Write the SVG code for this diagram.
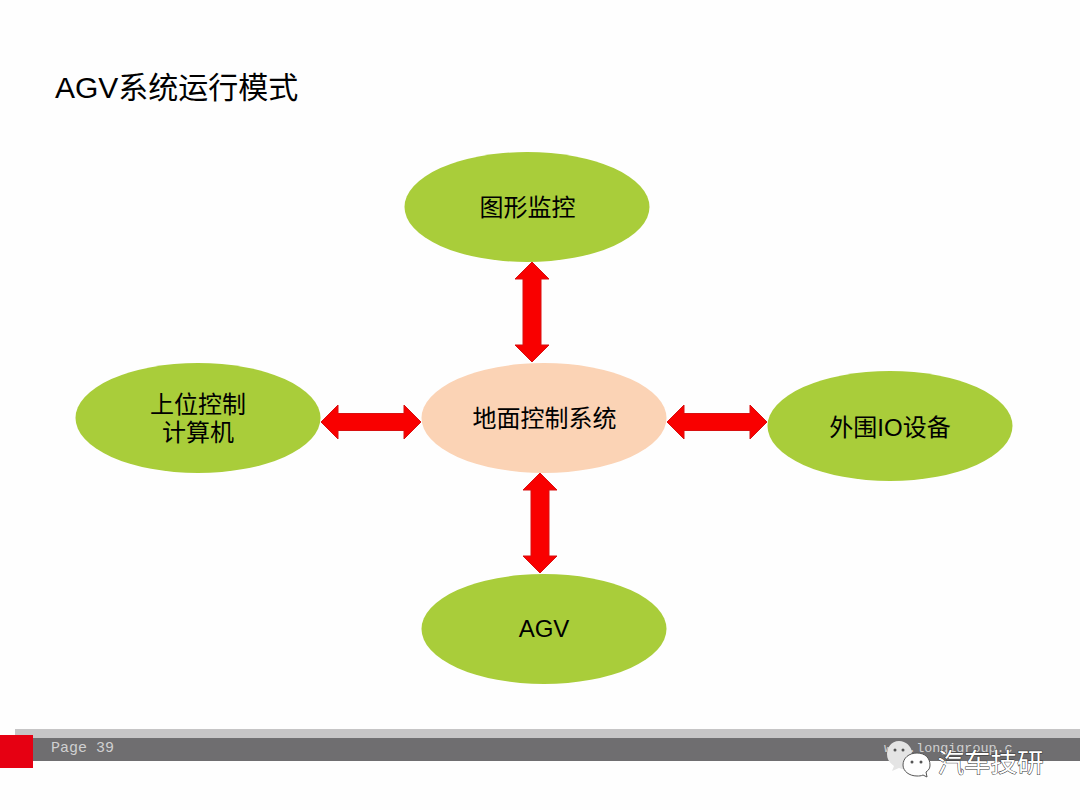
<svg xmlns="http://www.w3.org/2000/svg" width="1080" height="810" viewBox="0 0 1080 810">
<style>
text{font-family:"Liberation Sans","Noto Sans CJK SC",sans-serif;fill:#000;text-anchor:middle}
.l{font-size:24px}
.g{fill:#a9cd3a}
.a{fill:#f90000;stroke:#d81010;stroke-width:1}
.m{font-family:"Liberation Mono",monospace;fill:#d0d0d0;text-anchor:start}
.d{fill:#555}
</style>
<rect width="1080" height="810" fill="#fefefe"/>
<text x="55" y="98" style="font-size:30px;text-anchor:start">AGV系统运行模式</text>
<g id="connectors">
<path class="a" d="M532 262L549 279H541V345H549L532 362L515 345H523V279H515Z"/>
<path class="a" d="M321 422L338 405V413.500H404V405L421 422L404 439V430.500H338V439Z"/>
<path class="a" d="M667 422L684 405V413.500H750V405L767 422L750 439V430.500H684V439Z"/>
<path class="a" d="M540 473L557 490H549V556H557L540 573L523 556H531V490H523Z"/>
</g>
<g id="node-monitor"><ellipse class="g" cx="527" cy="207" rx="122.500" ry="55"/><text class="l" x="527.500" y="216">图形监控</text></g>
<g id="node-host"><ellipse class="g" cx="198" cy="418" rx="122.500" ry="55"/><text class="l" x="198" y="413">上位控制</text><text class="l" x="198" y="441">计算机</text></g>
<g id="node-center"><ellipse cx="544" cy="418" rx="122.500" ry="55" fill="#fbd3b5"/><text class="l" x="544.500" y="427">地面控制系统</text></g>
<g id="node-io"><ellipse class="g" cx="890" cy="426" rx="122.500" ry="55"/><text class="l" x="890" y="436">外围IO设备</text></g>
<g id="node-agv"><ellipse class="g" cx="544" cy="629" rx="122.500" ry="55"/><text class="l" x="544" y="637">AGV</text></g>
<rect x="15" y="729" width="1065" height="9" fill="#c6c5c6"/>
<rect x="33" y="738" width="1047" height="23" fill="#6f6e70"/>
<rect x="0" y="735" width="33" height="33" fill="#e60012"/>
<text class="m" x="51" y="752" style="font-size:15px">Page 39</text>
<text class="m" x="884" y="752" style="font-size:13.400px">www.longigroup.c</text>
<g id="watermark">
<path d="M899 741C891 741 887 748 887 754C887 760 890 763 894 766L892 771L899 768C901 769 903 769 905 769L912 752C911 746 906 741 899 741Z" fill="#e4e4e4"/>
<circle class="d" cx="895" cy="750" r="1.500"/><circle class="d" cx="903" cy="750" r="1.500"/>
<path d="M917 753C909 753 903 758 903 765C903 771 909 776 917 776C919 776 921 776 923 775L927 777L926 772C929 770 930 768 930 765C930 758 925 753 917 753Z" fill="#fefefe" stroke="#555" stroke-width="1"/>
<circle class="d" cx="912" cy="762" r="1.500"/><circle class="d" cx="921" cy="762" r="1.500"/>
<text x="990.500" y="772" style="font-size:26.500px;fill:#fff;stroke:#333;stroke-width:1;paint-order:stroke">汽车技研</text>
</g>
</svg>
